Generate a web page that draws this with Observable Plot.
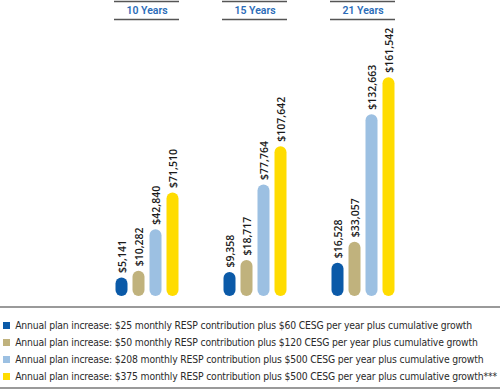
<!DOCTYPE html>
<html>
<head>
<meta charset="utf-8">
<script src="https://cdn.jsdelivr.net/npm/d3@7"></script>
<script src="https://cdn.jsdelivr.net/npm/@observablehq/plot@0.6"></script>
<style>
  html, body { margin: 0; padding: 0; background: #fff; }
  #chart { width: 500px; height: 300px; }
  #legend { margin-top: 6px; border-top: 2px solid #9a9a9a; border-bottom: 2px solid #9a9a9a; padding: 9px 0 4px 3px; width: 497px; height: 66px; }
  #legend [class*="swatch"] { overflow: visible !important; text-overflow: clip !important; white-space: nowrap !important; }
  #legend [class$="-swatch"] { height: 16px !important; line-height: 16px !important; margin: 0 !important; }
</style>
</head>
<body>
<div id="chart"></div>
<div id="legend"></div>
<script>
const periods = ["10 Years", "15 Years", "21 Years"];
const series = [
  "Annual plan increase: $25 monthly RESP contribution plus $60 CESG per year plus cumulative growth",
  "Annual plan increase: $50 monthly RESP contribution plus $120 CESG per year plus cumulative growth",
  "Annual plan increase: $208 monthly RESP contribution plus $500 CESG per year plus cumulative growth",
  "Annual plan increase: $375 monthly RESP contribution plus $500 CESG per year plus cumulative growth***"
];
const colors = ["#0b5aa8", "#c0b27d", "#9cc0e2", "#ffdc00"];
const values10 = [5141, 10282, 42840, 71510];
const values15 = [9358, 18717, 77764, 107642];
const values21 = [16528, 33057, 132663, 161542];

const valuesByPeriod = [values10, values15, values21];
const data = [];
periods.forEach((p, i) => series.forEach((s, j) => data.push({period: p, series: s, value: valuesByPeriod[i][j]})));

const yMax = 211700;
const fmt = d3.format("$,");

const chart = Plot.plot({
  width: 500,
  height: 300,
  marginTop: 19,
  marginBottom: 10,
  marginLeft: 113,
  marginRight: 103,
  style: {background: "#fff"},
  fx: {domain: periods, paddingInner: 0.394, paddingOuter: 0, axis: null},
  x: {domain: series, type: "point", padding: 1/3, axis: null},
  y: {domain: [0, yMax], axis: null},
  color: {domain: series, range: colors},
  marks: [
    Plot.ruleY([yMax], {stroke: "#555", strokeWidth: 1.5}),
    Plot.ruleY([yMax], {stroke: "#555", strokeWidth: 1.5, dy: -18}),
    Plot.text(periods, {fx: d => d, text: d => d, frameAnchor: "top", lineAnchor: "middle", dy: -9, fill: "#2b6cb8", fontSize: 10.5, fontWeight: 600, fontFamily: "Roboto, sans-serif"}),
    Plot.ruleX(data, {fx: "period", x: "series", y1: 0, y2: "value", stroke: "series", strokeWidth: 12, strokeLinecap: "round"}),
    Plot.text(data, {fx: "period", x: "series", y: "value", text: d => fmt(d.value), rotate: -90, textAnchor: "start", dy: -11, dx: 1, fill: "#1a1a1a", fontSize: 10.5, fontWeight: 600, fontFamily: "'Open Sans', sans-serif"})
  ]
});
document.getElementById("chart").append(chart);

const legend = Plot.legend({
  color: {domain: series, range: colors},
  columns: 1,
  swatchSize: 7,
  style: {fontSize: "10.3px", letterSpacing: "-0.16px", fontFamily: "'DejaVu Sans Condensed', sans-serif", color: "#2a2a2a", marginLeft: 0}
});
document.getElementById("legend").append(legend);
</script>
</body>
</html>
